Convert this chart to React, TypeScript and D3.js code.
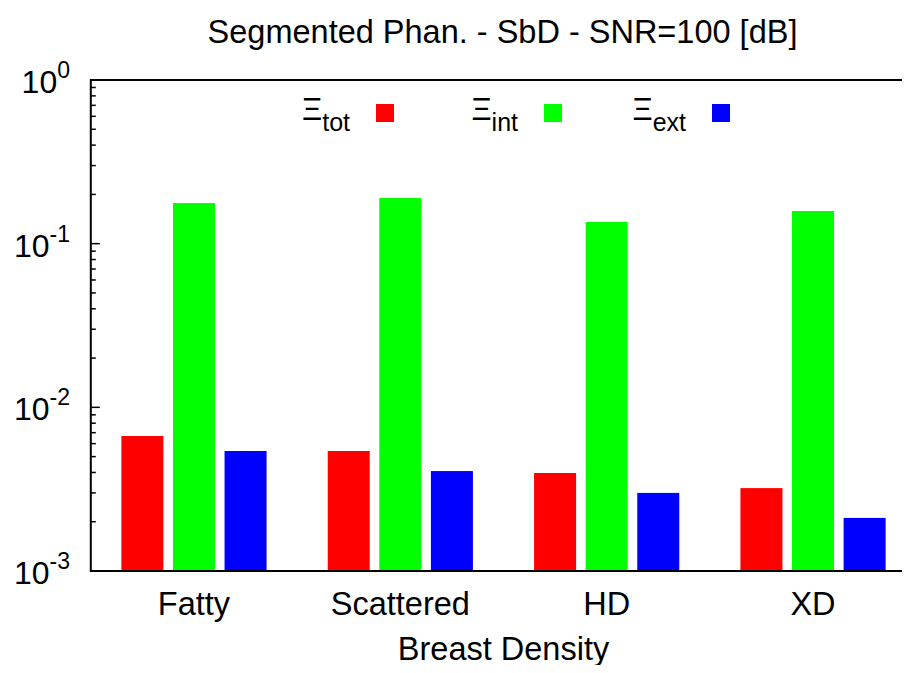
import React from "react";
import * as d3 from "d3";

// Breast-density categories along the x axis
const categories: string[] = ["Fatty", "Scattered", "HD", "XD"];

// Error measures per category (log-scaled y axis)
const xiTot: number[] = [0.00668, 0.00541, 0.00397, 0.00321];
const xiInt: number[] = [0.177, 0.190, 0.1357, 0.1583];
const xiExt: number[] = [0.00541, 0.00408, 0.0030, 0.00211];

const seriesNames: string[] = ["tot", "int", "ext"];
const seriesColors: string[] = ["#ff0000", "#00ff00", "#0000ff"];

// Decade tick exponents for the y axis
const yTickExponents: number[] = [0, -1, -2, -3];

const W = 910;
const H = 673;
const FONT = "'Liberation Sans', Arial, Helvetica, sans-serif";

export default function App() {
  const series = [xiTot, xiInt, xiExt];
  const left = 90.8;
  const right = 916.2;
  const top = 80;
  const bottom = 571;

  const x = d3.scaleLinear().domain([-0.5, categories.length - 0.5]).range([left, right]);
  const y = d3.scaleLog().domain([1e-3, 1]).range([bottom, top]);
  const unit = x(1) - x(0);
  const slot = 0.25;
  const barW = 0.2036 * unit;

  const minorTicks: number[] = [];
  for (let e = -3; e < 0; e++) {
    for (let m = 2; m <= 9; m++) minorTicks.push(m * Math.pow(10, e));
  }

  const legendX = [376, 544, 712];

  return (
    <div style={{ margin: -8 }}>
      <svg width={W} height={H} style={{ display: "block", background: "#fff" }} fontFamily={FONT}>
        <text x={502.5} y={43} fontSize={32.5} textAnchor="middle" fill="#000">
          Segmented Phan. - SbD - SNR=100 [dB]
        </text>

        {series.map((vals, j) =>
          vals.map((v, i) => {
            const cx = x(i) + (j - 1) * slot * unit;
            return (
              <rect
                key={`b-${j}-${i}`}
                x={cx - barW / 2}
                y={y(v)}
                width={barW}
                height={bottom - y(v)}
                fill={seriesColors[j]}
              />
            );
          })
        )}

        {/* frame */}
        <rect x={left} y={top} width={right - left} height={bottom - top} fill="none" stroke="#000" strokeWidth={2} />

        {/* y ticks, both sides */}
        {yTickExponents.map((e) => {
          const yy = y(Math.pow(10, e));
          return (
            <g key={`t${e}`}>
              <line x1={left} x2={left + 9} y1={yy} y2={yy} stroke="#000" strokeWidth={1.5} />
              <line x1={right} x2={right - 9} y1={yy} y2={yy} stroke="#000" strokeWidth={1.5} />
              <text x={70} y={yy + 13} textAnchor="end" fontSize={32} fill="#000">
                10
                <tspan dy={-15} fontSize={23}>{e}</tspan>
              </text>
            </g>
          );
        })}
        {minorTicks.map((v, k) => {
          const yy = y(v);
          return (
            <g key={`m${k}`}>
              <line x1={left} x2={left + 5} y1={yy} y2={yy} stroke="#000" strokeWidth={1.5} />
              <line x1={right} x2={right - 5} y1={yy} y2={yy} stroke="#000" strokeWidth={1.5} />
            </g>
          );
        })}

        {/* category labels */}
        {categories.map((c, i) => (
          <text key={c} x={x(i)} y={615} textAnchor="middle" fontSize={32.5} fill="#000">
            {c}
          </text>
        ))}
        <text x={503.5} y={660} textAnchor="middle" fontSize={32.5} fill="#000">
          Breast Density
        </text>

        {/* legend */}
        {seriesNames.map((n, j) => (
          <g key={n}>
            <text x={legendX[j] - 26} y={120} textAnchor="end" fontSize={31} fill="#000">
              Ξ<tspan dy={11} fontSize={25}>{n}</tspan>
            </text>
            <rect x={legendX[j]} y={104} width={18} height={18} fill={seriesColors[j]} />
          </g>
        ))}
      </svg>
    </div>
  );
}
